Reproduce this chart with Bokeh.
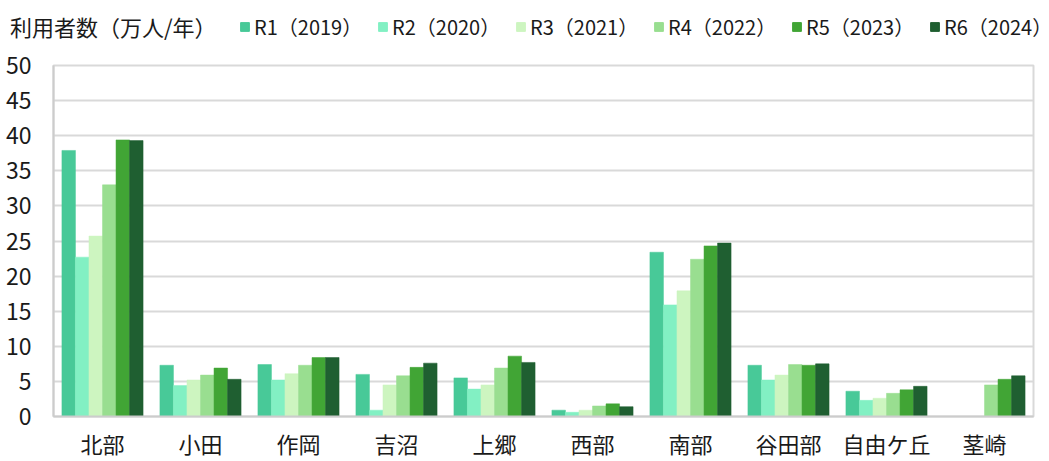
import math
from bokeh.plotting import figure
from bokeh.layouts import column, row
from bokeh.models import (ColumnDataSource, FactorRange, Range1d, Legend, LegendItem,
                          SingleIntervalTicker)
from bokeh.transform import dodge
from bokeh.embed import file_html
from bokeh.resources import INLINE

NAN = float("nan")

categories = ["北部", "小田", "作岡", "吉沼", "上郷", "西部", "南部", "谷田部", "自由ケ丘", "茎崎"]
series_names = ["R1（2019）", "R2（2020）", "R3（2021）", "R4（2022）", "R5（2023）", "R6（2024）"]
r1 = [37.9, 7.3, 7.4, 6.0, 5.5, 0.9, 23.4, 7.3, 3.6, NAN]
r2 = [22.7, 4.4, 5.2, 0.9, 3.9, 0.6, 15.9, 5.2, 2.3, NAN]
r3 = [25.7, 5.2, 6.1, 4.5, 4.5, 0.9, 17.9, 5.9, 2.6, NAN]
r4 = [33.0, 5.9, 7.3, 5.8, 6.9, 1.5, 22.4, 7.4, 3.3, 4.5]
r5 = [39.4, 6.9, 8.4, 7.0, 8.6, 1.8, 24.3, 7.3, 3.8, 5.3]
r6 = [39.3, 5.3, 8.4, 7.6, 7.7, 1.4, 24.7, 7.5, 4.3, 5.8]
colors = ["#48C998", "#82F0C3", "#CDF5C0", "#99DE90", "#41A535", "#1F5F31"]
legend_title = "利用者数（万人/年）"

FONT = "'Noto Sans CJK JP', sans-serif"
TEXT = "#1a1a1a"
GRID = "#D9D9D9"

src = ColumnDataSource(dict(cat=categories, r1=r1, r2=r2, r3=r3, r4=r4, r5=r5, r6=r6))

# ---- legend strip (separate small figure above the chart) ----
LH = 44
lg = figure(width=1049, height=LH, x_range=Range1d(0, 1), y_range=Range1d(0, 1),
            x_axis_type=None, y_axis_type=None, output_backend="svg", toolbar_location=None,
            min_border_left=0, min_border_right=0, min_border_top=0, min_border_bottom=0)
lg.outline_line_color = None
lg.xgrid.grid_line_color = None
lg.ygrid.grid_line_color = None

# legend-only renderers: one row placed outside the visible range
t_r = lg.vbar(x=[-5], top=[0], width=0.1, fill_alpha=0, line_alpha=0)
title_legend = Legend(items=[LegendItem(label=legend_title, renderers=[t_r])],
                      location=(9, 2), orientation="horizontal",
                      glyph_width=1, glyph_height=1, label_standoff=0,
                      padding=0, margin=0, background_fill_alpha=0, border_line_alpha=0,
                      label_text_font=FONT, label_text_font_size="22px", label_text_color=TEXT)
lg.add_layout(title_legend, "center")

s_items = []
for c, name in zip(colors, series_names):
    rr = lg.vbar(x=[-5], top=[0], width=0.1, fill_color=c, line_color=c)
    s_items.append(LegendItem(label=name, renderers=[rr]))
series_legend = Legend(items=s_items, location=(239, 3), orientation="horizontal",
                       glyph_width=11, glyph_height=11, label_standoff=4, spacing=0,
                       label_width=123, padding=0, margin=0,
                       background_fill_alpha=0, border_line_alpha=0,
                       label_text_font=FONT, label_text_font_size="20px", label_text_color=TEXT)
lg.add_layout(series_legend, "center")

# ---- main chart ----
p = figure(x_range=FactorRange(*categories, range_padding=0), y_range=Range1d(0, 50),
           width=1049, height=461 - LH, output_backend="svg", toolbar_location=None,
           min_border_left=53, min_border_right=16, min_border_top=65 - LH, min_border_bottom=40)

bw = 0.138
offsets = [-2.5 * bw, -1.5 * bw, -0.5 * bw, 0.5 * bw, 1.5 * bw, 2.5 * bw]
keys = ["r1", "r2", "r3", "r4", "r5", "r6"]
for k, off, c in zip(keys, offsets, colors):
    p.vbar(x=dodge("cat", off, range=p.x_range), top=k, width=bw, bottom=0,
           source=src, fill_color=c, line_color=c, line_width=0.5)

p.xgrid.grid_line_color = None
p.ygrid.grid_line_color = GRID
p.ygrid.grid_line_width = 2
p.outline_line_color = GRID
p.outline_line_width = 2

p.yaxis.ticker = SingleIntervalTicker(interval=5)
for ax in (p.xaxis[0], p.yaxis[0]):
    ax.axis_line_color = "#CCCCCC"
    ax.axis_line_width = 2
    ax.major_tick_line_color = None
    ax.minor_tick_line_color = None
    ax.major_tick_out = 0
    ax.major_tick_in = 0
    ax.major_label_text_font = FONT
    ax.major_label_text_color = TEXT
p.yaxis.major_label_text_font_size = "23px"
p.yaxis.major_label_standoff = 18
p.xaxis.major_label_text_font_size = "22px"
p.xaxis.major_label_standoff = 10

layout = column(row(lg), p, spacing=0)
open("out.html", "w").write(file_html(layout, INLINE))
